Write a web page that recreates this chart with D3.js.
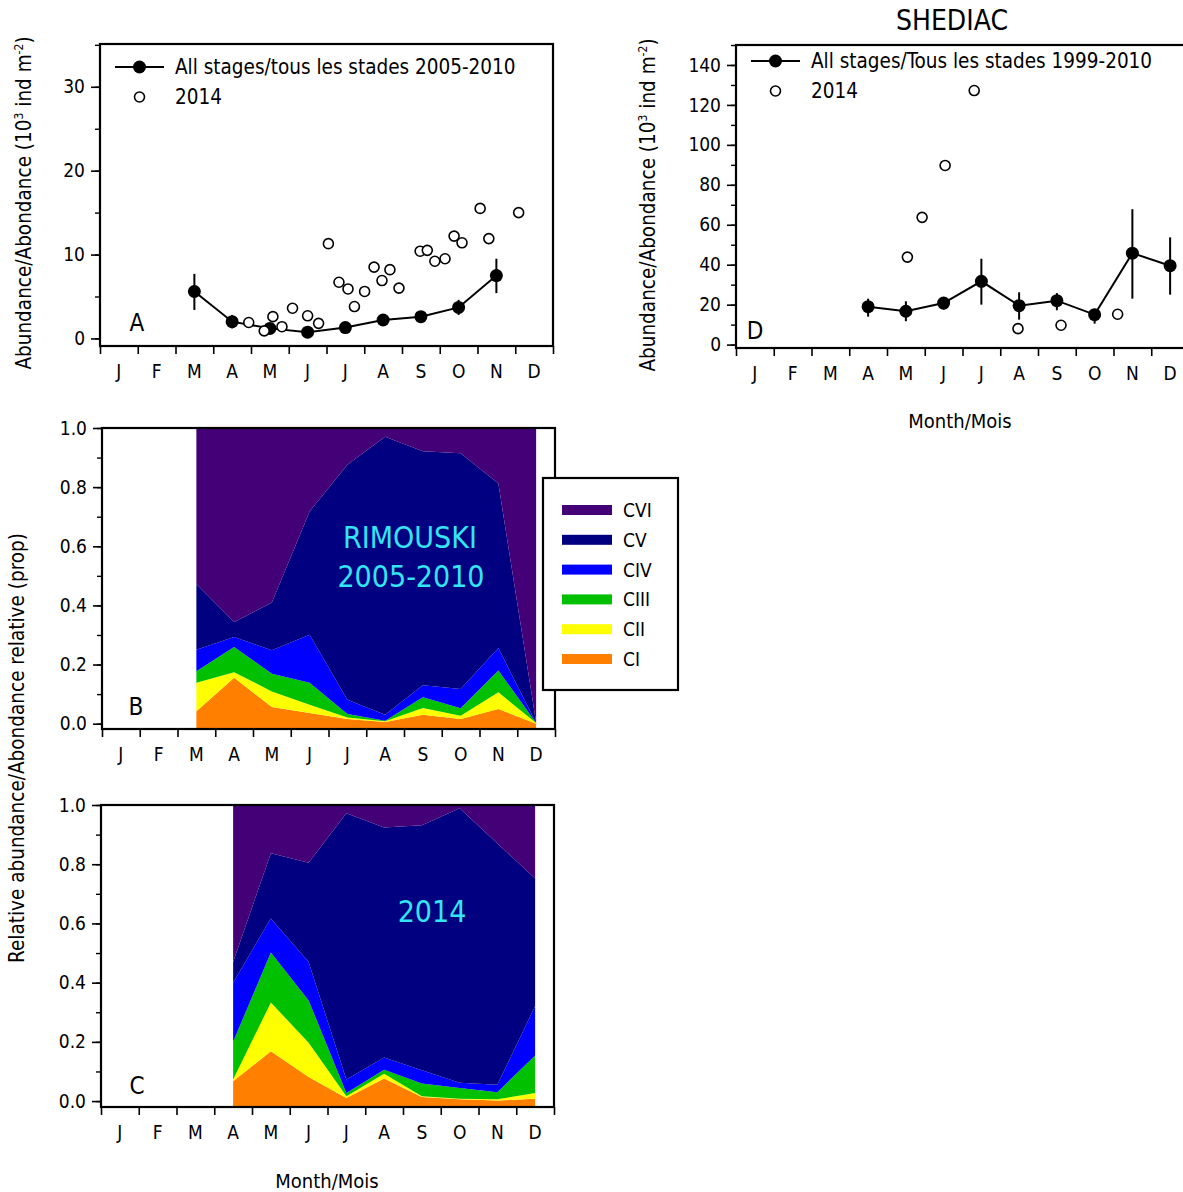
<!DOCTYPE html>
<html>
<head>
<meta charset="utf-8">
<script src="https://cdn.jsdelivr.net/npm/d3@7"></script>
<style>
  body { margin: 0; background: #fff; }
  text { font-family: "DejaVu Sans Condensed", "DejaVu Sans", sans-serif; font-stretch: condensed; fill: #000; }
</style>
</head>
<body>
<svg id="chart" width="1183" height="1192"></svg>
<script>
// month labels and stage names
const months = ["J", "F", "M", "A", "M", "J", "J", "A", "S", "O", "N", "D"];
const stages = ["CI", "CII", "CIII", "CIV", "CV", "CVI"];
const stageColors = ["#ff8000", "#ffff00", "#00c000", "#0000ff", "#000080", "#440077"];
const FONT = "DejaVu Sans Condensed, DejaVu Sans, sans-serif";

// Panel A - Rimouski, all stages 2005-2010 (month position, mean, error range)
const rimMonth = [2.5, 3.5, 4.5, 5.5, 6.5, 7.5, 8.5, 9.5, 10.5];
const rimMean = [5.6, 2.0, 1.2, 0.75, 1.3, 2.2, 2.6, 3.7, 7.5];
const rimLo = [3.4, 1.2, 0.8, 0.5, 1.0, 1.9, 2.2, 2.8, 5.4];
const rimHi = [7.7, 2.8, 1.6, 1.0, 1.6, 2.5, 3.0, 4.6, 9.5];
// Panel A - 2014 samples
const rim14Month = [3.94, 4.35, 4.58, 4.82, 5.10, 5.50, 5.79, 6.05, 6.33, 6.57, 6.74, 7.01, 7.26,
  7.47, 7.68, 7.92, 8.48, 8.67, 8.87, 9.14, 9.38, 9.59, 10.07, 10.30, 11.09];
const rim14 = [1.9, 0.9, 2.6, 1.4, 3.6, 2.7, 1.8, 11.3, 6.7, 5.9, 3.8, 5.6, 8.5,
  6.9, 8.2, 6.0, 10.4, 10.5, 9.2, 9.5, 12.2, 11.4, 15.5, 11.9, 15.0];

// Panel D - Shediac, all stages 1999-2010
const shedMonth = [3.5, 4.5, 5.5, 6.5, 7.5, 8.5, 9.5, 10.5, 11.5];
const shedMean = [19.0, 16.7, 20.8, 31.7, 19.5, 22.0, 15.0, 45.8, 39.5];
const shedLo = [14.0, 11.7, 17.5, 20.0, 12.5, 17.2, 10.5, 23.0, 25.0];
const shedHi = [23.0, 21.7, 23.3, 43.0, 26.2, 25.8, 17.5, 67.8, 53.7];
// Panel D - 2014 samples
const shed14Month = [4.54, 4.93, 5.54, 6.31, 7.47, 8.61, 10.11];
const shed14 = [43.8, 63.7, 89.7, 127.2, 8.0, 9.7, 15.2];

// Panel B - stage proportions 2005-2010 (mid-month, Mar..Dec)
const propBMonth = [2.5, 3.5, 4.5, 5.5, 6.5, 7.5, 8.5, 9.5, 10.5, 11.5];
const propB_CI   = [0.042, 0.155, 0.056, 0.036, 0.016, 0.006, 0.030, 0.016, 0.050, 0.000];
const propB_CII  = [0.096, 0.019, 0.053, 0.028, 0.005, 0.002, 0.023, 0.011, 0.056, 0.002];
const propB_CIII = [0.039, 0.085, 0.060, 0.074, 0.012, 0.002, 0.036, 0.025, 0.074, 0.000];
const propB_CIV  = [0.073, 0.034, 0.079, 0.163, 0.048, 0.020, 0.041, 0.065, 0.076, 0.000];
const propB_CV   = [0.222, 0.051, 0.162, 0.417, 0.795, 0.940, 0.791, 0.798, 0.556, 0.002];
const propB_CVI  = [0.528, 0.656, 0.590, 0.282, 0.124, 0.030, 0.079, 0.085, 0.188, 0.996];

// Panel C - stage proportions 2014 (mid-month, Apr..Dec)
const propCMonth = [3.5, 4.5, 5.5, 6.5, 7.5, 8.5, 9.5, 10.5, 11.5];
const propC_CI   = [0.067, 0.168, 0.081, 0.010, 0.076, 0.014, 0.006, 0.002, 0.008];
const propC_CII  = [0.006, 0.165, 0.116, 0.006, 0.016, 0.002, 0.002, 0.004, 0.019];
const propC_CIII = [0.127, 0.169, 0.143, 0.011, 0.014, 0.043, 0.036, 0.024, 0.127];
const propC_CIV  = [0.200, 0.115, 0.130, 0.046, 0.041, 0.045, 0.018, 0.025, 0.167];
const propC_CV   = [0.070, 0.220, 0.335, 0.899, 0.777, 0.828, 0.927, 0.815, 0.431];
const propC_CVI  = [0.530, 0.163, 0.195, 0.028, 0.076, 0.068, 0.011, 0.130, 0.248];

const svg = d3.select("#chart");

// draws frame, month axis and value axis for one panel
function makePanel(box, yDomain, majorStep, minorStep, fmt) {
  const g = svg.append("g");
  const x = d3.scaleLinear().domain([0, 12]).range([box.left, box.right]);
  const y = d3.scaleLinear().domain(yDomain).range([box.bottom, box.top]);

  const body = g.append("g");

  // month axis: ticks at month boundaries, labels in between
  const xAxis = d3.axisBottom(x).tickValues(d3.range(0, 13)).tickSize(8).tickFormat("");
  g.append("g").attr("transform", `translate(0,${box.bottom})`).call(xAxis)
    .call(a => a.select(".domain").remove())
    .call(a => a.selectAll("line").attr("stroke-width", 1.6));
  g.append("g").selectAll("text").data(months).join("text")
    .attr("x", (d, i) => x(i + 0.5)).attr("y", box.bottom + 32)
    .attr("text-anchor", "middle").attr("font-size", 19).text(d => d);

  // value axis with minor ticks
  const top = yDomain[1];
  const minor = d3.range(0, top + 1e-9, minorStep);
  const major = d3.range(0, top + 1e-9, majorStep);
  g.append("g").attr("transform", `translate(${box.left},0)`)
    .call(d3.axisLeft(y).tickValues(minor).tickSize(5).tickFormat(""))
    .call(a => a.select(".domain").remove())
    .call(a => a.selectAll("line").attr("stroke-width", 1.4));
  g.append("g").attr("transform", `translate(${box.left},0)`)
    .call(d3.axisLeft(y).tickValues(major).tickSize(9).tickPadding(6).tickFormat(fmt))
    .call(a => a.select(".domain").remove())
    .call(a => a.selectAll("line").attr("stroke-width", 1.6))
    .call(a => a.selectAll("text").attr("font-size", 19).attr("font-family", FONT));

  g.append("rect").attr("x", box.left).attr("y", box.top)
    .attr("width", box.right - box.left).attr("height", box.bottom - box.top)
    .attr("fill", "none").attr("stroke", "#000").attr("stroke-width", 2.2);

  return { g, body, x, y };
}

function abundanceLabel(xPos, yPos) {
  const t = svg.append("text")
    .attr("transform", `translate(${xPos},${yPos}) rotate(-90)`)
    .attr("text-anchor", "middle").attr("font-size", 20.5);
  t.append("tspan").text("Abundance/Abondance (10");
  t.append("tspan").attr("dy", -8).attr("font-size", 12).text("3");
  t.append("tspan").attr("dy", 8).text(" ind m");
  t.append("tspan").attr("dy", -8).attr("font-size", 12).text("-2");
  t.append("tspan").attr("dy", 8).text(")");
}

function drawAbundance(p, mx, mean, lo, hi, mx14, v14) {
  const { body, x, y } = p;
  const pts = mx.map((m, i) => ({ m, v: mean[i], lo: lo[i], hi: hi[i] }));
  body.selectAll(".err").data(pts).join("line")
    .attr("x1", d => x(d.m)).attr("x2", d => x(d.m))
    .attr("y1", d => y(d.lo)).attr("y2", d => y(d.hi))
    .attr("stroke", "#000").attr("stroke-width", 2);
  body.append("path").datum(pts)
    .attr("d", d3.line().x(d => x(d.m)).y(d => y(d.v)))
    .attr("fill", "none").attr("stroke", "#000").attr("stroke-width", 2);
  body.selectAll(".mean").data(pts).join("circle")
    .attr("cx", d => x(d.m)).attr("cy", d => y(d.v)).attr("r", 6.5).attr("fill", "#000");
  body.selectAll(".o14").data(mx14.map((m, i) => ({ m, v: v14[i] }))).join("circle")
    .attr("cx", d => x(d.m)).attr("cy", d => y(d.v)).attr("r", 5)
    .attr("fill", "#fff").attr("stroke", "#000").attr("stroke-width", 1.6);
}

function drawLegendA(lx, ly, label) {
  svg.append("line").attr("x1", lx).attr("x2", lx + 49).attr("y1", ly).attr("y2", ly)
    .attr("stroke", "#000").attr("stroke-width", 2);
  svg.append("circle").attr("cx", lx + 24.5).attr("cy", ly).attr("r", 6.5).attr("fill", "#000");
  svg.append("text").attr("x", lx + 60).attr("y", ly + 7).attr("font-size", 20.5).text(label);
  svg.append("circle").attr("cx", lx + 24.5).attr("cy", ly + 30).attr("r", 5)
    .attr("fill", "#fff").attr("stroke", "#000").attr("stroke-width", 1.6);
  svg.append("text").attr("x", lx + 60).attr("y", ly + 37).attr("font-size", 20.5).text("2014");
}

function drawStack(p, mx, series, yMin) {
  const { body, x, y } = p;
  const rows = mx.map((m, i) => {
    const r = { m };
    stages.forEach((s, k) => { r[s] = series[k][i]; });
    return r;
  });
  const stacked = d3.stack().keys(stages)(rows);
  stacked.forEach((s, k) => {
    const a = d3.area()
      .x(d => x(d.data.m))
      .y0(d => (k === 0 ? y(yMin) : y(d[0])))
      .y1(d => (k === stages.length - 1 ? y(y.domain()[1]) : y(d[1])));
    body.append("path").datum(s).attr("d", a).attr("fill", stageColors[k]);
  });
}

// ---------- Panel A ----------
const pA = makePanel({ left: 100, right: 553, top: 44, bottom: 346 }, [-0.9, 35.1], 10, 5, d3.format("d"));
drawAbundance(pA, rimMonth, rimMean, rimLo, rimHi, rim14Month, rim14);
drawLegendA(115, 67, "All stages/tous les stades 2005-2010");
svg.append("text").attr("x", 137).attr("y", 331).attr("text-anchor", "middle")
  .attr("font-size", 24).text("A");
abundanceLabel(31, 203);

// ---------- Panel D ----------
const pD = makePanel({ left: 736, right: 1189, top: 45, bottom: 348 }, [-1.7, 150], 20, 10, d3.format("d"));
drawAbundance(pD, shedMonth, shedMean, shedLo, shedHi, shed14Month, shed14);
drawLegendA(751, 61, "All stages/Tous les stades 1999-2010");
svg.append("text").attr("x", 755).attr("y", 339).attr("text-anchor", "middle")
  .attr("font-size", 24).text("D");
abundanceLabel(655, 205);
svg.append("text").attr("x", 952).attr("y", 30).attr("text-anchor", "middle")
  .attr("font-size", 28).text("SHEDIAC");
svg.append("text").attr("x", 960).attr("y", 428).attr("text-anchor", "middle")
  .attr("font-size", 20).text("Month/Mois");

// ---------- Panel B ----------
const pB = makePanel({ left: 102, right: 555, top: 428, bottom: 729 }, [-0.018, 1.0], 0.2, 0.1, d3.format(".1f"));
drawStack(pB, propBMonth, [propB_CI, propB_CII, propB_CIII, propB_CIV, propB_CV, propB_CVI], -0.018);
svg.append("text").attr("x", 136).attr("y", 715).attr("text-anchor", "middle")
  .attr("font-size", 24).text("B");
svg.append("text").attr("x", 410).attr("y", 548).attr("text-anchor", "middle")
  .attr("font-size", 30).style("fill", "#33e5f5").text("RIMOUSKI");
svg.append("text").attr("x", 411).attr("y", 587).attr("text-anchor", "middle")
  .attr("font-size", 30).style("fill", "#33e5f5").text("2005-2010");

// stage legend
const leg = svg.append("g").attr("transform", "translate(543,478)");
leg.append("rect").attr("width", 135).attr("height", 212)
  .attr("fill", "#fff").attr("stroke", "#000").attr("stroke-width", 2.2);
const legOrder = stages.slice().reverse();
const legColors = stageColors.slice().reverse();
legOrder.forEach((s, i) => {
  const yy = 32 + i * 29.8;
  leg.append("rect").attr("x", 19).attr("y", yy - 5).attr("width", 50).attr("height", 10)
    .attr("fill", legColors[i]);
  leg.append("text").attr("x", 80).attr("y", yy + 7).attr("font-size", 19).text(s);
});

// ---------- Panel C ----------
const pC = makePanel({ left: 101, right: 554, top: 805, bottom: 1107 }, [-0.02, 1.0], 0.2, 0.1, d3.format(".1f"));
drawStack(pC, propCMonth, [propC_CI, propC_CII, propC_CIII, propC_CIV, propC_CV, propC_CVI], -0.02);
svg.append("text").attr("x", 137).attr("y", 1094).attr("text-anchor", "middle")
  .attr("font-size", 24).text("C");
svg.append("text").attr("x", 432).attr("y", 922).attr("text-anchor", "middle")
  .attr("font-size", 30).style("fill", "#33e5f5").text("2014");
svg.append("text").attr("x", 327).attr("y", 1188).attr("text-anchor", "middle")
  .attr("font-size", 20).text("Month/Mois");

// shared y label for B and C
svg.append("text").attr("transform", "translate(24,748) rotate(-90)")
  .attr("text-anchor", "middle").attr("font-size", 20.5)
  .text("Relative abundance/Abondance relative (prop)");
</script>
</body>
</html>
